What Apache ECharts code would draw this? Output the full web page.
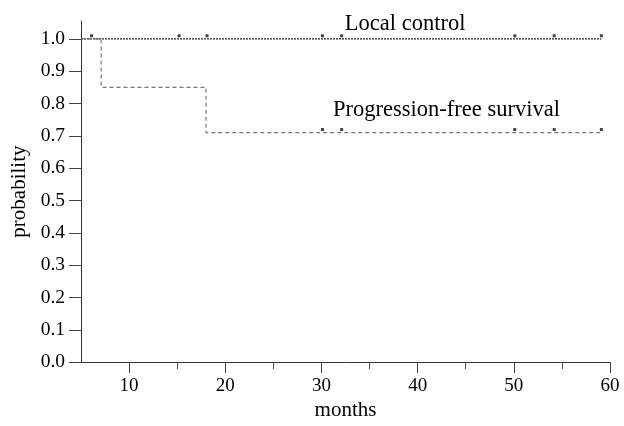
<!DOCTYPE html>
<html>
<head>
<meta charset="utf-8">
<script src="https://cdn.jsdelivr.net/npm/echarts@6/dist/echarts.min.js"></script>
<style>html,body{margin:0;padding:0;background:#fff;}#c{width:624px;height:426px;}</style>
</head>
<body>
<div id="c"></div>
<script>
// Kaplan-Meier step curves (months, probability)
var localControl = [[5, 1.0], [59.1, 1.0]];
var pfs = [[5, 1.0], [7.1, 0.85], [18.0, 0.71], [59.1, 0.71]];
// censor marks
var lcCensor = [[6.1, 1.0], [15.2, 1.0], [18.1, 1.0], [30.1, 1.0], [32.1, 1.0], [50.1, 1.0], [54.2, 1.0], [59.1, 1.0]];
var pfsCensor = [[30.1, 0.71], [32.1, 0.71], [50.1, 0.71], [54.2, 0.71], [59.1, 0.71]];
var xTicks = [10, 20, 30, 40, 50, 60];
var xMinorTicks = [15, 25, 35, 45, 55];
var yTicks = [0, 0.1, 0.2, 0.3, 0.4, 0.5, 0.6, 0.7, 0.8, 0.9, 1.0];
var curveLabels = [{name: 'Local control', coord: [38.7, 1.045]}, {name: 'Progression-free survival', coord: [43.0, 0.78]}];

var serif = '"Liberation Serif", "DejaVu Serif", serif';
var chart = echarts.init(document.getElementById('c'));
chart.setOption({
  backgroundColor: '#fff',
  animation: false,
  grid: {left: 81, right: 14, top: 21, bottom: 63},
  xAxis: [{
    type: 'value', min: 5, max: 60,
    name: 'months', nameLocation: 'middle', nameGap: 37,
    nameTextStyle: {fontFamily: serif, fontSize: 21, color: '#000'},
    axisLine: {lineStyle: {color: '#333', width: 1}},
    axisTick: {customValues: xTicks, length: 11, lineStyle: {color: '#444'}},
    axisLabel: {customValues: xTicks, fontFamily: serif, fontSize: 19, color: '#000', margin: 14},
    splitLine: {show: false}
  }, {
    type: 'value', min: 5, max: 60, position: 'bottom',
    axisLine: {show: false},
    axisTick: {show: true, customValues: xMinorTicks, length: 7, lineStyle: {color: '#555'}},
    axisLabel: {show: false},
    splitLine: {show: false}
  }],
  yAxis: {
    type: 'value', min: 0, max: 1.055,
    name: 'probability', nameLocation: 'middle', nameGap: 50,
    nameTextStyle: {fontFamily: serif, fontSize: 21, color: '#000'},
    axisLine: {show: true, lineStyle: {color: '#333', width: 1}},
    axisTick: {show: true, customValues: yTicks, length: 12, lineStyle: {color: '#444'}},
    axisLabel: {customValues: yTicks, fontFamily: serif, fontSize: 19.5, color: '#000', margin: 16,
      formatter: function (v) { return v.toFixed(1); }},
    splitLine: {show: false}
  },
  series: [
    {
      type: 'line', name: 'Local control', data: localControl, step: 'end', symbol: 'none',
      lineStyle: {color: '#222', width: 1.2, type: [2, 1]},
      markPoint: {
        symbol: 'circle', symbolSize: 0,
        label: {show: true, position: 'inside', formatter: '{b}', fontFamily: serif, fontSize: 22.5, color: '#000'},
        data: [curveLabels[0]]
      }
    },
    {
      type: 'line', name: 'Progression-free survival', data: pfs, step: 'end', symbol: 'none',
      lineStyle: {color: '#777', width: 1.2, type: [4, 3]},
      markPoint: {
        symbol: 'circle', symbolSize: 0,
        label: {show: true, position: 'inside', formatter: '{b}', fontFamily: serif, fontSize: 22.5, color: '#000'},
        data: [curveLabels[1]]
      }
    },
    {
      type: 'scatter', data: lcCensor, symbol: 'rect', symbolSize: 3, symbolOffset: [0, -3],
      itemStyle: {color: '#111'}
    },
    {
      type: 'scatter', data: pfsCensor, symbol: 'rect', symbolSize: 3, symbolOffset: [0, -3],
      itemStyle: {color: '#111'}
    }
  ]
});
</script>
</body>
</html>
